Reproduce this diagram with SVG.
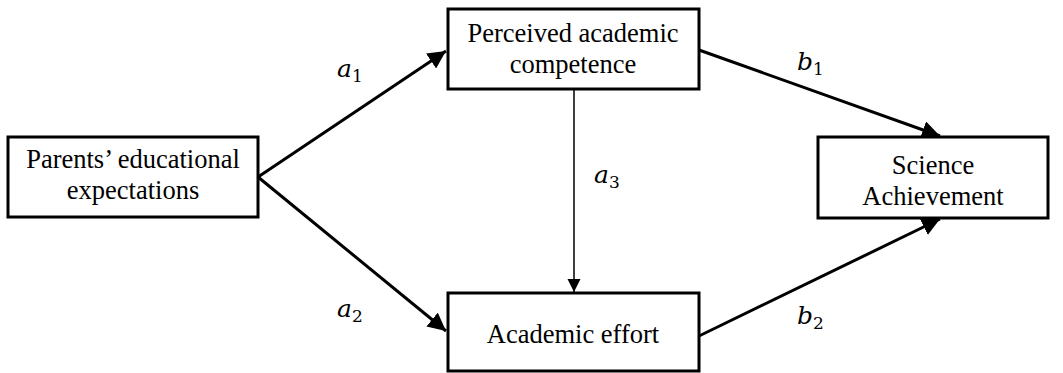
<svg xmlns="http://www.w3.org/2000/svg" width="1063" height="373" viewBox="0 0 1063 373">
  <style>
    .box { fill: #ffffff; stroke: #000000; stroke-width: 3; }
    .lbl { font-family: "Liberation Serif", "Times New Roman", serif; font-size: 26.5px; fill: #000000; text-anchor: middle; }
    .path { stroke: #000000; stroke-width: 3; fill: none; }
    .thin { stroke: #000000; stroke-width: 1.5; fill: none; }
    .coef { font-family: "DejaVu Serif", "Liberation Serif", serif; font-style: italic; font-size: 25px; fill: #000000; }
    .sub { font-family: "DejaVu Serif", "Liberation Serif", serif; font-style: normal; font-size: 17px; }
  </style>
  <defs>
    <marker id="head" viewBox="0 0 10 10" refX="10" refY="5" markerWidth="6" markerHeight="6" markerUnits="strokeWidth" orient="auto">
      <path d="M0,0 L10,5 L0,10 z" fill="#000000"/>
    </marker>
    <marker id="headThin" viewBox="0 0 10 10" refX="10" refY="5" markerWidth="9" markerHeight="9" markerUnits="strokeWidth" orient="auto">
      <path d="M0,0 L10,5 L0,10 z" fill="#000000"/>
    </marker>
  </defs>

  <g id="connectors">
    <line class="path" x1="258" y1="177" x2="446" y2="51" marker-end="url(#head)"/>
    <line class="path" x1="258" y1="177" x2="446" y2="331" marker-end="url(#head)"/>
    <line class="thin" x1="574" y1="89" x2="574" y2="292" marker-end="url(#headThin)"/>
    <line class="path" x1="699" y1="50" x2="940" y2="136" marker-end="url(#head)"/>
    <line class="path" x1="699" y1="336" x2="940" y2="219" marker-end="url(#head)"/>
    <text class="coef" x="337" y="77">a<tspan class="sub" dy="5">1</tspan></text>
    <text class="coef" x="337" y="317">a<tspan class="sub" dy="5">2</tspan></text>
    <text class="coef" x="594" y="183">a<tspan class="sub" dy="5">3</tspan></text>
    <text class="coef" x="797" y="70">b<tspan class="sub" dy="5">1</tspan></text>
    <text class="coef" x="797" y="324">b<tspan class="sub" dy="5">2</tspan></text>
  </g>

  <g id="parents">
    <rect class="box" x="8" y="137" width="250" height="80"/>
    <text class="lbl" x="133" y="168">Parents’ educational</text>
    <text class="lbl" x="133" y="199">expectations</text>
  </g>

  <g id="competence">
    <rect class="box" x="448" y="9" width="251" height="80"/>
    <text class="lbl" x="573" y="42">Perceived academic</text>
    <text class="lbl" x="573" y="73">competence</text>
  </g>

  <g id="effort">
    <rect class="box" x="448" y="293" width="251" height="78"/>
    <text class="lbl" x="573" y="343">Academic effort</text>
  </g>

  <g id="science">
    <rect class="box" x="818" y="137" width="230" height="81"/>
    <text class="lbl" x="933" y="174">Science</text>
    <text class="lbl" x="933" y="205">Achievement</text>
  </g>
</svg>
